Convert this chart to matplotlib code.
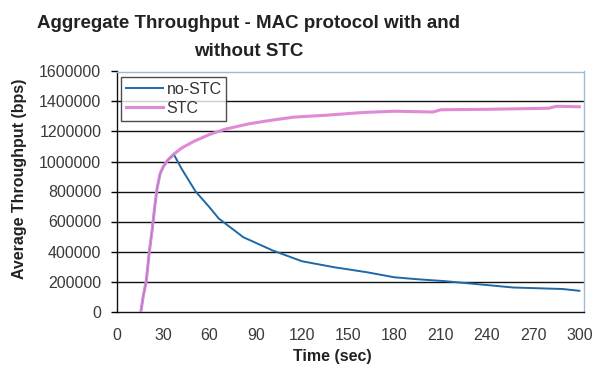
import matplotlib
matplotlib.use("Agg")
import matplotlib.pyplot as plt

# ---- data ----
stc_t = [15.5, 17, 19, 21, 23, 24.5, 26, 28, 30, 33, 37, 42, 50, 60, 70, 85, 100,
         115, 135, 160, 180, 205, 210, 240, 280, 285, 300]
stc_v = [0, 100000, 205000, 400000, 560000, 700000, 820000, 920000, 965000, 1010000,
         1050000, 1090000, 1135000, 1180000, 1215000, 1250000, 1275000, 1296000,
         1308000, 1327000, 1335000, 1330000, 1345000, 1348000, 1355000, 1368000, 1365000]

nostc_t = [15.5, 17, 19, 21, 23, 24.5, 26, 28, 30, 33, 37, 42, 45, 51, 60, 66, 72, 82,
           101, 120, 141, 162, 180, 195, 212, 231, 257, 289, 300]
nostc_v = [0, 100000, 205000, 400000, 560000, 700000, 820000, 920000, 965000, 1010000,
           1045000, 950000, 900000, 800000, 695000, 620000, 573000, 495000, 407000,
           335000, 295000, 262000, 228000, 215000, 203000, 185000, 160000, 150000, 138000]

x_ticks = [0, 30, 60, 90, 120, 150, 180, 210, 240, 270, 300]
y_ticks = [0, 200000, 400000, 600000, 800000, 1000000, 1200000, 1400000, 1600000]

title = "Aggregate Throughput - MAC protocol with and\nwithout STC"
x_label = "Time (sec)"
y_label = "Average Throughput (bps)"

# ---- plot ----
plt.rcParams['font.family'] = ['Liberation Sans', 'DejaVu Sans']
fig = plt.figure(figsize=(5.97, 3.69), dpi=100)
ax = fig.add_axes([117/597, 1 - 311.5/369, (584-117)/597, (311.5-71.5)/369])

l1, = ax.plot(nostc_t, nostc_v, color='#1f68a6', lw=1.4, label='no-STC', zorder=3)
l2, = ax.plot(stc_t, stc_v, color='#e08ad6', lw=2.2, label='STC', zorder=4)
ax.plot(stc_t[:11], stc_v[:11], color='#a07ccc', lw=0.6, zorder=5)

ax.set_xlim(0, 303)
ax.set_ylim(0, 1600000)
ax.set_xticks(x_ticks)
ax.set_xticks([300], minor=True)
ax.set_yticks(y_ticks)
ax.set_yticklabels([str(v) for v in y_ticks])
ax.tick_params(axis='y', direction='out', length=4.3, width=1, pad=7,
               labelsize=11.5, labelcolor='#3a3a3a')
ax.tick_params(axis='x', which='major', length=0, pad=12, labelsize=11.5,
               labelcolor='#3a3a3a')
ax.tick_params(axis='x', which='minor', length=4, width=1, direction='out')

for v in y_ticks[1:-1]:
    ax.axhline(v, color='#111111', lw=1.0, zorder=1)

ax.spines['left'].set_color('#111111')
ax.spines['bottom'].set_color('#111111')
ax.spines['top'].set_color('#9dbbd2')
ax.spines['right'].set_color('#9dbbd2')
for s in ax.spines.values():
    s.set_linewidth(1.0)

fig.text(249/597, 1 - 24/369, title.split("\n")[0], ha='center', va='center',
         fontsize=13.5, fontweight='bold', color='#222222')
fig.text(249/597, 1 - 52/369, title.split("\n")[1], ha='center', va='center',
         fontsize=13.5, fontweight='bold', color='#222222')
fig.text(332/597, 1 - 356/369, x_label, ha='center', va='center', fontsize=11.5,
         fontweight='bold', color='#222222')
fig.text(20/597, 1 - 179/369, y_label, ha='center', va='center', rotation=90,
         fontsize=11.5, fontweight='bold', color='#222222')

leg = ax.legend(handles=[l1, l2], loc='upper left',
                bbox_to_anchor=(121/597, 1 - 77/369), bbox_transform=fig.transFigure,
                frameon=True, fancybox=False, fontsize=11.5, handlelength=2.3,
                handletextpad=0.25, borderpad=0.3, labelspacing=0.25,
                borderaxespad=0)
leg.get_frame().set_edgecolor('#222222')
leg.get_frame().set_linewidth(1.0)
for t in leg.get_texts():
    t.set_color('#333333')

fig.savefig('out.png', dpi=100)
